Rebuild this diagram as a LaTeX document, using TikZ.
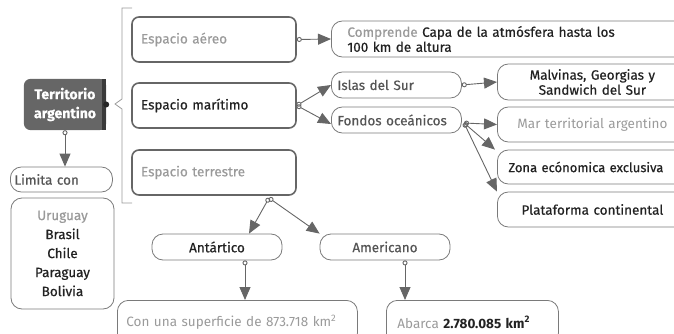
\documentclass[tikz,border=0pt]{standalone}
\usepackage{fontspec}
\setmainfont{Fira Sans}[FakeBold=0.6]
\newfontfamily\thinfont{Fira Sans}
\usepackage{tikz}
\usetikzlibrary{arrows.meta}
\usetikzlibrary{calc}
\usetikzlibrary{backgrounds}
\usepackage{xcolor}
\definecolor{boxgray}{HTML}{666666}
\definecolor{stripgray}{HTML}{3A3A3A}
\definecolor{linegray}{HTML}{7A7A7A}
\definecolor{lighttext}{HTML}{9A9A9A}
\definecolor{midtext}{HTML}{555555}
\definecolor{darktext}{HTML}{222222}

\begin{document}
\begin{tikzpicture}[x=1pt,y=-1pt,
  font=\fontsize{13.5}{15}\selectfont,
  bigbox/.style={draw=boxgray,line width=1.6pt,rounded corners=7pt,minimum height=45pt,text width=146pt,inner xsep=9pt,align=left},
  pill/.style={draw=linegray,line width=0.8pt,rounded corners=11pt,inner xsep=6pt},
  conn/.style={draw=boxgray,line width=0.9pt,{Circle[open,length=5pt]}-{Triangle[length=13pt,width=11pt]}}]
  \useasboundingbox (0,0) rectangle (674,334);
  \clip (0,0) rectangle (674,334);

  % main node
  \node[minimum width=82pt,minimum height=51pt,inner sep=1pt,
        text=white,align=center,font=\fontsize{14}{19}\selectfont\bfseries] (territorio) at (65,104.5) {Territorio\\argentino};
  \begin{scope}[on background layer]
    \fill[boxgray,rounded corners=7pt] (territorio.north west) rectangle (territorio.south east);
    \fill[boxgray] ([xshift=-8pt]territorio.north east) rectangle (territorio.south east);
    \fill[stripgray] ([xshift=-4pt]territorio.north east) rectangle (territorio.south east);
  \end{scope}
  \fill[black!85] (territorio.east) circle (3pt);

  % bracket
  \draw[lighttext,line width=0.8pt] (132,8) -- (122,8) -- (122,99) -- (115,104) -- (122,109) -- (122,203) -- (132,203);

  % three spaces
  \node[bigbox,text=lighttext] (aereo) at (214,39.5) {Espacio aéreo};
  \node[bigbox,text=darktext] (maritimo) at (214,105.5) {Espacio marítimo};
  \node[bigbox,text=lighttext] (terrestre) at (214,172.5) {Espacio terrestre};

  % aereo
  \node[pill,anchor=west,minimum height=36pt,text width=330pt,inner xsep=16pt,align=left,text=darktext] (comprende) at (331,39)
    {\textcolor{lighttext}{Comprende} Capa de la atmósfera hasta los\\100 km de altura};
  \draw[conn] (aereo.east) -- (comprende.west);

  % maritimo
  \node[pill,anchor=west,text width=118pt,align=left,minimum height=26pt,text=midtext] (islas) at (331,85) {Islas del Sur};
  \node[pill,anchor=west,text width=118pt,align=left,minimum height=26pt,text=midtext] (fondos) at (331,120) {Fondos oceánicos};
  \draw[conn] (maritimo.east) -- (islas.west);
  \draw[conn] (maritimo.east) -- ([yshift=-4pt]fondos.west);

  \node[pill,anchor=west,minimum height=36pt,text width=178pt,align=center,text=darktext] (malvinas) at (497,82) {Malvinas, Georgias y\\Sandwich del Sur};
  \draw[conn] (islas.east) -- (malvinas.west);

  \node[pill,anchor=west,minimum height=35pt,text width=178pt,align=center,text=lighttext,font=\fontsize{13.5}{15}\thinfont] (mar) at (497,124.5) {Mar territorial argentino};
  \node[pill,anchor=west,minimum height=34pt,text width=190pt,inner xsep=11pt,align=left,text=darktext,font=\fontsize{13}{15}\selectfont] (zona) at (497,167) {Zona ecónomica exclusiva};
  \node[pill,anchor=west,minimum height=35pt,text width=178pt,align=center,text=darktext] (plataforma) at (497,209.5) {Plataforma continental};
  \coordinate (fsplit) at (464,123);
  \draw[conn] (fsplit) -- (mar.west);
  \draw[conn] (fsplit) -- ([xshift=-2pt]zona.north west);
  \draw[conn] (fsplit) -- (plataforma.north west);

  % limits
  \node[pill,anchor=west,text width=94pt,align=left,minimum height=25pt,inner xsep=4pt,text=midtext] (limita) at (10,179.5) {Limita con};
  \node[pill,minimum width=103pt,minimum height=111pt,align=center,text=darktext,font=\fontsize{13.5}{19}\selectfont] (paises) at (62.5,253.5)
    {\textcolor{lighttext}{Uruguay}\\Brasil\\Chile\\Paraguay\\Bolivia};
  \draw[conn] (territorio.south) -- (territorio.south |- limita.north);

  % terrestre
  \node[pill,minimum width=130pt,minimum height=26pt,text=darktext] (antartico) at (217,247) {Antártico};
  \node[pill,minimum width=130pt,minimum height=26pt,text=midtext] (americano) at (385,247) {Americano};
  \coordinate (tsplit) at (269,198);
  \draw[conn] (tsplit) -- ([xshift=32pt]antartico.north);
  \draw[conn] (tsplit) -- (americano.north west);

  \node[pill,anchor=north west,text width=222pt,align=left,minimum height=44pt,inner xsep=9pt,text=lighttext,font=\fontsize{13.5}{15}\thinfont] (superficie) at (117,300)
    {Con una superficie de 873.718 km\textsuperscript{2}};
  \node[pill,anchor=north west,text width=150pt,align=left,minimum height=44pt,inner xsep=11pt,text=lighttext,font=\fontsize{13.5}{15}\thinfont] (abarca) at (386,300)
    {Abarca \textcolor{darktext}{\bfseries 2.780.085 km\textsuperscript{2}}};
  \draw[conn] ([xshift=28pt]antartico.south) -- ([xshift=28pt]antartico.south |- superficie.north);
  \draw[conn] ([xshift=20pt]americano.south) -- ([xshift=20pt]americano.south |- abarca.north);
\end{tikzpicture}
\end{document}
